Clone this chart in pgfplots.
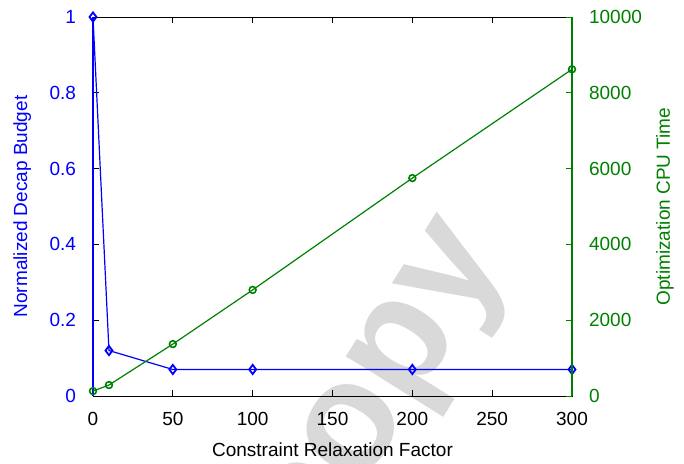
\documentclass[border=0pt]{standalone}
\usepackage{fontspec}
\setmainfont{Liberation Sans}
\usepackage{pgfplots}
\pgfplotsset{compat=1.18}

\definecolor{cpublue}{RGB}{0,0,255}
\definecolor{cpugreen}{RGB}{0,128,0}

\pgfplotsset{
  every axis/.append style={
    font=\fontsize{9.5}{11}\selectfont,
    tick label style={font=\fontsize{9.5}{11}\selectfont},
    /pgf/number format/assume math mode=true,
    /pgf/number format/1000 sep={},
  },
}

\begin{document}
\begin{tikzpicture}
\path[use as bounding box] (-46.5pt,-33.5pt) rectangle (295.5pt,198pt);
% watermark
\node[black!15, rotate=58, font=\fontsize{78}{84}\selectfont\bfseries]
  at (148pt,0pt) {copy};

\begin{axis}[
    scale only axis,
    width=239.5pt, height=189.5pt,
    xmin=0, xmax=300, ymin=0, ymax=1,
    xtick={0,50,...,300},
    ytick={0,0.2,...,1},
    yticklabels={0,0.2,0.4,0.6,0.8,1},
    xtick pos=both, ytick pos=left,
    tick align=inside,
    major tick length=3pt,
    axis line style={black, line width=0.5pt},
    every tick/.style={black},
    y tick label style={cpublue, xshift=-5pt},
    x tick label style={yshift=-4.5pt},
    xlabel={Constraint Relaxation Factor},
    ylabel={Normalized Decap Budget},
    ylabel style={cpublue, at={(axis description cs:-0.148,0.5)}, anchor=center},
    xlabel style={at={(axis description cs:0.5,-0.1425)}, anchor=center},
    clip=false,
]
\addplot[cpublue, line width=0.6pt, mark=diamond, mark size=2.3pt,
  mark options={line width=0.9pt}] coordinates {
(0,1) (10,0.12) (50,0.07) (100,0.07) (200,0.07) (300,0.07)};
\draw[cpublue, line width=0.6pt] (rel axis cs:0,0) -- (rel axis cs:0,1);
\end{axis}

\begin{axis}[
    scale only axis,
    width=239.5pt, height=189.5pt,
    xmin=0, xmax=300, ymin=0, ymax=10000,
    axis x line=none,
    axis y line*=right,
    ytick={0,2000,...,10000},
    scaled y ticks=false,
    tick align=inside,
    major tick length=3pt,
    y axis line style={cpugreen, line width=0.6pt, -},
    every tick/.style={cpugreen},
    y tick label style={cpugreen, xshift=5pt},
    ylabel={Optimization CPU Time},
    ylabel style={cpugreen, at={(axis description cs:1.194,0.5)}, anchor=center, rotate=0},
    clip=false,
]
\addplot[cpugreen, line width=0.6pt, mark=o, mark size=1.7pt,
  mark options={line width=0.8pt}] coordinates {
(0,130) (10,290) (50,1370) (100,2800) (200,5750) (300,8620)};
\end{axis}
\end{tikzpicture}
\end{document}
